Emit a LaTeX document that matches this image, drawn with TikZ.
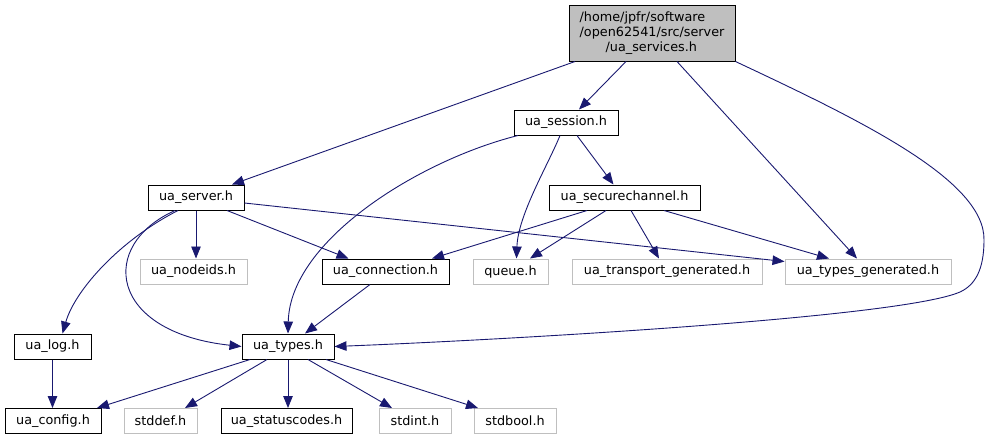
\documentclass[tikz,border=0pt]{standalone}
\usepackage{fontspec}
\setmainfont{DejaVu Sans}
\usepackage{tikz}
\usetikzlibrary{arrows.meta}
\definecolor{edgeblue}{HTML}{191970}
\definecolor{curgray}{HTML}{BFBFBF}
\definecolor{extgray}{HTML}{BFBFBF}

\begin{document}
\begin{tikzpicture}[x=1pt,y=-1pt]
			\tikzstyle{doc}=[draw=black,line width=1pt,minimum height=25pt,inner sep=0pt,font=\fontsize{12.8}{15}\selectfont]
			\tikzstyle{ext}=[doc,draw=extgray]
			\tikzstyle{dep}=[draw=edgeblue,line width=0.9pt,-{Triangle[length=12pt,width=9.5pt]}]
				\useasboundingbox (0,0) rectangle (990,440);
				% files
				\node [doc,fill=curgray,minimum width=166pt,minimum height=56pt,align=left] (svc) at (652,33) {/home/jpfr/software\\/open62541/src/server\\\hspace*{26pt}/ua\_services.h};
				\node [doc,minimum width=104pt] (sess) at (566,122.5) {ua\_session.h};
				\node [doc,minimum width=96pt] (srv) at (196,197.5) {ua\_server.h};
				\node [doc,minimum width=151pt] (sc) at (624.5,197.5) {ua\_securechannel.h};
				\node [ext,minimum width=107pt] (nodeids) at (193.5,271.5) {ua\_nodeids.h};
				\node [doc,minimum width=127pt] (conn) at (385.5,271.5) {ua\_connection.h};
				\node [ext,minimum width=75pt] (queue) at (510.5,271.5) {queue.h};
				\node [ext,minimum width=190pt] (trans) at (667,271.5) {ua\_transport\_generated.h};
				\node [ext,minimum width=166pt] (tgen) at (868,271.5) {ua\_types\_generated.h};
				\node [doc,minimum width=77pt] (log) at (52.5,346.5) {ua\_log.h};
				\node [doc,minimum width=92pt] (types) at (288,346.5) {ua\_types.h};
				\node [doc,minimum width=96pt] (config) at (53,421) {ua\_config.h};
				\node [ext,minimum width=73pt] (stddef) at (160.5,421) {stddef.h};
				\node [doc,minimum width=131pt] (status) at (286.5,421) {ua\_statuscodes.h};
				\node [ext,minimum width=72pt] (stdint) at (415,421) {stdint.h};
				\node [ext,minimum width=82pt] (stdbool) at (515,421) {stdbool.h};
				% includes
				\draw [dep] ([xshift=-77pt]svc.south) -- ([xshift=36pt]srv.north);
				\draw [dep] ([xshift=-26pt]svc.south) -- ([xshift=13pt]sess.north);
				\draw [dep] ([xshift=25pt]svc.south) -- ([xshift=-11pt]tgen.north);
				\draw [dep] (svc.south east) .. controls (860,120) and (985,180) .. (984,240) .. controls (984,270) and (975,285) .. (960,292) .. controls (900,318) and (500,340) .. (types.east);
				\draw [dep] ([xshift=-48pt]sess.south) .. controls (420,160) and (290,240) .. (types.north);
				\draw [dep] ([xshift=-6pt]sess.south) .. controls (548,165) and (518,215) .. ([xshift=6pt]queue.north);
				\draw [dep] ([xshift=11pt]sess.south) -- ([xshift=-11pt]sc.north);
				\draw [dep] ([xshift=-18pt]srv.south) .. controls (120,240) and (75,290) .. ([xshift=10pt]log.north);
				\draw [dep] ([xshift=-21pt]srv.south) .. controls (98,245) and (108,332) .. (types.west);
				\draw [dep] (srv.south) -- (srv.south |- nodeids.north);
				\draw [dep] ([xshift=31pt]srv.south) -- ([xshift=-37pt]conn.north);
				\draw [dep] ([yshift=-5.5pt]srv.east) -- ([yshift=-3pt]tgen.north west);
				\draw [dep] ([xshift=-37.5pt]sc.south) -- ([xshift=46.5pt]conn.north);
				\draw [dep] ([xshift=-18.5pt]sc.south) -- ([xshift=19.5pt]queue.north);
				\draw [dep] ([xshift=6.5pt]sc.south) -- ([xshift=-8pt]trans.north);
				\draw [dep] ([xshift=39.5pt]sc.south) -- ([xshift=-39pt]tgen.north);
				\draw [dep] ([xshift=-15.5pt]conn.south) -- ([xshift=17pt]types.north);
				\draw [dep] (log.south) -- (log.south |- config.north);
				\draw [dep] ([xshift=-38pt]types.south) -- ([xshift=44pt]config.north);
				\draw [dep] ([xshift=-21pt]types.south) -- ([xshift=24.5pt]stddef.north);
				\draw [dep] (types.south) -- (types.south |- status.north);
				\draw [dep] ([xshift=20pt]types.south) -- ([xshift=-23pt]stdint.north);
				\draw [dep] ([xshift=38pt]types.south) -- ([xshift=-37pt]stdbool.north);
	\end{tikzpicture}
\end{document}
